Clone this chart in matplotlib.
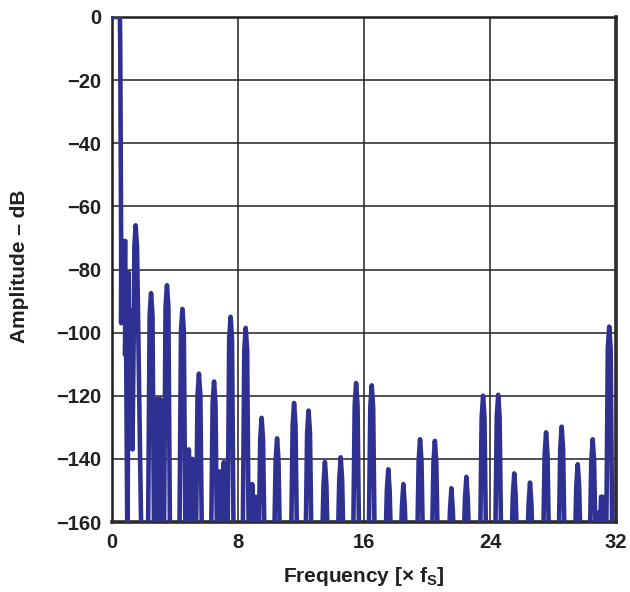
import matplotlib
matplotlib.use("Agg")
import matplotlib.pyplot as plt
import numpy as np

# ---------------- data ----------------
# pass-band edge and the cluttered region below 2 x fS
LOW_F = [0.00, 0.50, 0.52, 0.56, 0.58, 0.58, 0.60, 0.85, 0.83, 0.88, 0.98,
         1.06, 1.10, 1.18, 1.28, 1.30, 1.38, 1.42, 1.50, 1.59, 1.88]
LOW_DB = [0, 0, -7, -50, -71, -97, -71, -71, -107, -90, -172,
          -81, -125, -100, -93, -137, -100, -73, -66, -73, -172]

# 2 .. 9.5 x fS
MID_F = [2.28, 2.39, 2.48, 2.57, 2.68,
         2.72, 2.78, 2.82, 2.87, 2.91, 2.96, 3.00, 3.05, 3.09, 3.14, 3.20,
         3.29, 3.40, 3.49, 3.58, 3.69,
         4.27, 4.38, 4.47, 4.56, 4.67,
         4.75, 4.82, 4.88, 4.93, 4.98, 5.04, 5.10, 5.15, 5.22,
         5.32, 5.43, 5.52, 5.61, 5.72,
         6.28, 6.39, 6.48, 6.57, 6.68,
         6.75, 6.84, 6.92, 7.02, 7.10, 7.18,
         7.33, 7.44, 7.53, 7.62, 7.73,
         8.29, 8.40, 8.49, 8.58, 8.69,
         8.82, 8.90, 8.97, 9.05, 9.12, 9.20]
MID_DB = [-172, -94.5, -87.5, -94.5, -172,
          -172, -122, -165, -121, -165, -122, -165, -121, -165, -122, -172,
          -172, -92, -85, -92, -172,
          -172, -99.5, -92.5, -99.5, -172,
          -172, -150, -137, -150, -165, -145, -140, -150, -172,
          -172, -120, -113, -120, -172,
          -172, -122.5, -115.5, -122.5, -172,
          -172, -144, -165, -148, -141, -172,
          -172, -102, -95, -102, -172,
          -172, -105.5, -98.5, -105.5, -172,
          -172, -148, -160, -153, -152, -172]

# image lobes from 9.5 to 32 x fS
HIGH_F = [9.30, 9.41, 9.50, 9.59, 9.70,
          10.28, 10.39, 10.48, 10.57, 10.68,
          11.36, 11.47, 11.56, 11.65, 11.76,
          12.28, 12.39, 12.48, 12.57, 12.68,
          13.32, 13.43, 13.52, 13.61, 13.72,
          14.32, 14.43, 14.52, 14.61, 14.72,
          15.30, 15.41, 15.50, 15.59, 15.70,
          16.29, 16.40, 16.49, 16.58, 16.69,
          17.34, 17.45, 17.54, 17.63, 17.74,
          18.30, 18.41, 18.50, 18.59, 18.70,
          19.36, 19.47, 19.56, 19.65, 19.76,
          20.30, 20.41, 20.50, 20.59, 20.70,
          21.35, 21.46, 21.55, 21.64, 21.75,
          22.30, 22.41, 22.50, 22.59, 22.70,
          23.36, 23.47, 23.56, 23.65, 23.76,
          24.32, 24.43, 24.52, 24.61, 24.72,
          25.34, 25.45, 25.54, 25.63, 25.74,
          26.34, 26.45, 26.54, 26.63, 26.74,
          27.36, 27.47, 27.56, 27.65, 27.76,
          28.35, 28.46, 28.55, 28.64, 28.75,
          29.37, 29.48, 29.57, 29.66, 29.77,
          30.32, 30.43, 30.52, 30.61, 30.72,
          30.82, 30.90, 30.97, 31.05, 31.15, 31.22,
          31.37, 31.48, 31.57, 31.66, 31.77, 32.00]
HIGH_DB = [-172, -134, -127, -134, -172,
           -172, -140.5, -133.5, -140.5, -172,
           -172, -129.3, -122.3, -129.3, -172,
           -172, -131.7, -124.7, -131.7, -172,
           -172, -148, -141, -148, -172,
           -172, -146.5, -139.5, -146.5, -172,
           -172, -123, -116, -123, -172,
           -172, -123.7, -116.7, -123.7, -172,
           -172, -150.3, -143.3, -150.3, -172,
           -172, -155, -148, -155, -172,
           -172, -140.8, -133.8, -140.8, -172,
           -172, -141.3, -134.3, -141.3, -172,
           -172, -156.3, -149.3, -156.3, -172,
           -172, -152.7, -145.7, -152.7, -172,
           -172, -127, -120, -127, -172,
           -172, -126.7, -119.7, -126.7, -172,
           -172, -151.6, -144.6, -151.6, -172,
           -172, -154.5, -147.5, -154.5, -172,
           -172, -138.6, -131.6, -138.6, -172,
           -172, -136.8, -129.8, -136.8, -172,
           -172, -148.7, -141.7, -148.7, -172,
           -172, -140.8, -133.8, -140.8, -172,
           -172, -157, -166, -152, -152, -166,
           -172, -105.1, -98.1, -105.1, -172, -172]

X_TICKS = [0, 8, 16, 24, 32]
Y_TICKS = [0, -20, -40, -60, -80, -100, -120, -140, -160]
X_LABEL = "Frequency [× f$_{\\mathbf{S}}$]"
Y_LABEL = "Amplitude – dB"

# ---------------- style ----------------
plt.rcParams["font.family"] = ["Liberation Sans", "DejaVu Sans"]
plt.rcParams["font.weight"] = "bold"
plt.rcParams["mathtext.fontset"] = "custom"
plt.rcParams["mathtext.bf"] = "Liberation Sans:bold"
plt.rcParams["mathtext.rm"] = "Liberation Sans:bold"
plt.rcParams["axes.unicode_minus"] = True

LINE = "#2e3192"
INK = "#231f20"

fig = plt.figure(figsize=(6.30, 5.92), dpi=100)
ax = fig.add_axes([112 / 630, 1 - 522 / 592, 504 / 630, 505 / 592])

freq = np.array(LOW_F + MID_F + HIGH_F)
amp = np.array(LOW_DB + MID_DB + HIGH_DB)
ax.plot(freq, amp, color=LINE, lw=3.3, solid_joinstyle="round",
        solid_capstyle="round", zorder=5)

ax.set_xlim(0, 32)
ax.set_ylim(-160, 0)
ax.set_xticks(X_TICKS)
ax.set_yticks(Y_TICKS)
ax.grid(True, color=INK, lw=1.1, zorder=1)
ax.set_axisbelow(True)
ax.tick_params(length=0, labelsize=14.5, colors=INK, pad=8)
for lab in ax.get_xticklabels() + ax.get_yticklabels():
    lab.set_fontweight("bold")

for side in ["left", "top"]:
    ax.spines[side].set_linewidth(1.8)
    ax.spines[side].set_color(INK)
for side in ["right", "bottom"]:
    ax.spines[side].set_linewidth(2.6)
    ax.spines[side].set_color("#2b2b2b")
for sp in ax.spines.values():
    sp.set_zorder(4)

fig.text(364 / 630, 1 - 577 / 592, X_LABEL, ha="center", va="center",
         fontsize=15, fontweight="bold", color=INK)
fig.text(20 / 630, 1 - 266 / 592, Y_LABEL, ha="center", va="center",
         rotation=90, fontsize=15, fontweight="bold", color=INK)

fig.savefig("out.png", dpi=100)
